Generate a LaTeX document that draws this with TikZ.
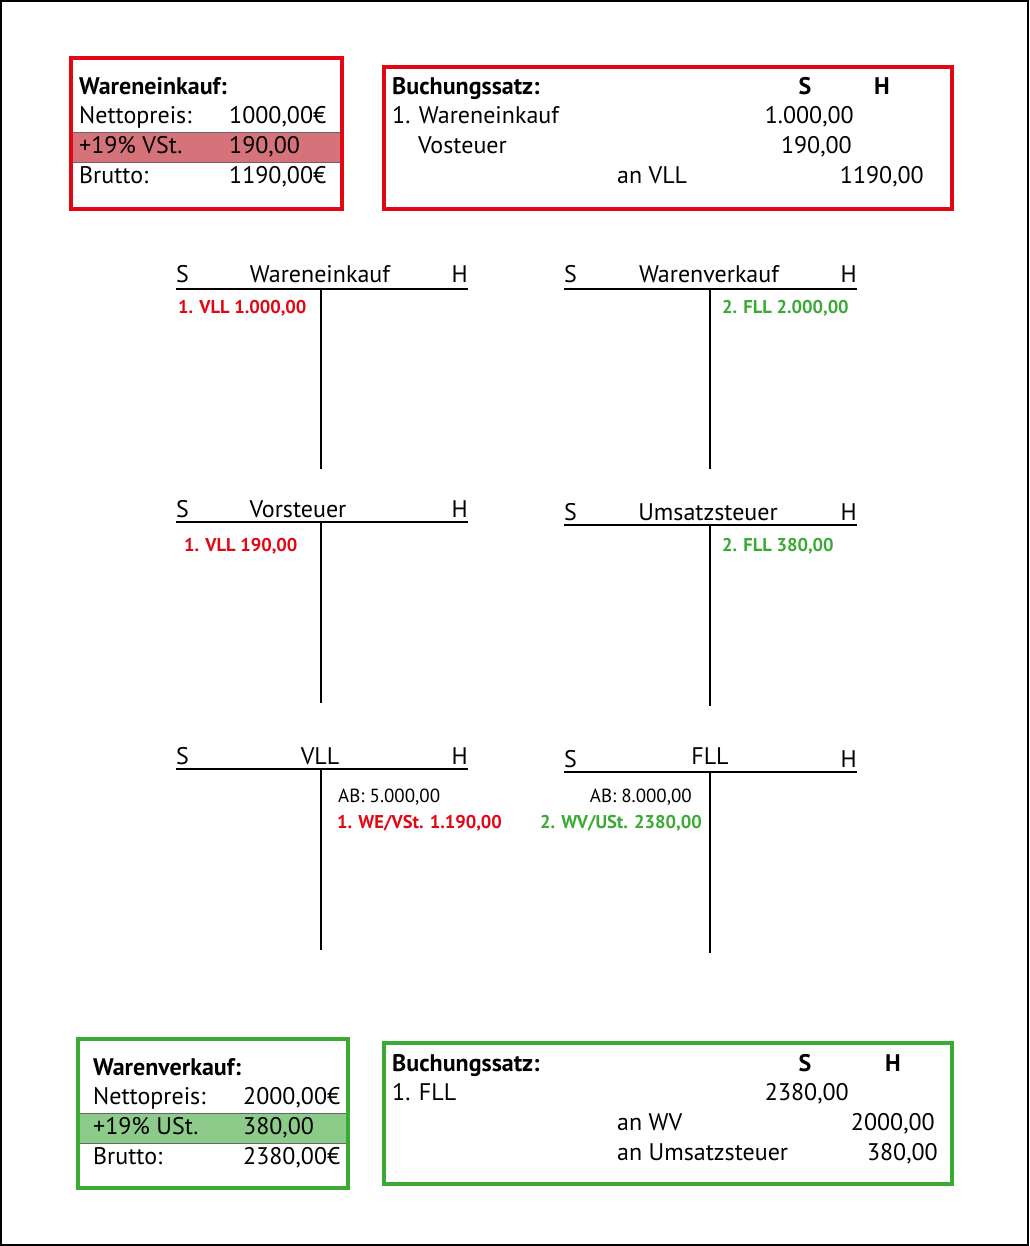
\documentclass[tikz,border=0pt]{standalone}
\usepackage{fontspec}
\setmainfont{PT Sans}
\usetikzlibrary{shapes}
\definecolor{kred}{HTML}{E30613}
\definecolor{kgreen}{HTML}{3AAA35}
\definecolor{redfill}{HTML}{D6727A}
\definecolor{greenfill}{HTML}{8CCB89}
\tikzstyle{txt} =
        [
                anchor = base west,
                inner sep = 0pt,
                font = \fontsize{24}{24}\selectfont
        ]
\tikzstyle{num} =
        [
                txt,
                anchor = base east
        ]
\tikzstyle{head} =
        [
                txt,
                font = \fontsize{24}{24}\selectfont\bfseries
        ]
\tikzstyle{entry} =
        [
                anchor = base west,
                inner sep = 0pt,
                font = \fontsize{18.5}{18.5}\selectfont\bfseries
        ]
\tikzstyle{small} =
        [
                anchor = base west,
                inner sep = 0pt,
                font = \fontsize{19}{19}\selectfont
        ]
\tikzstyle{konto} =
        [
                draw,
                line width = 2pt
        ]
\tikzstyle{redbox} =
        [
                draw = kred,
                line width = 3.5pt
        ]
\tikzstyle{greenbox} =
        [
                draw = kgreen,
                line width = 3.5pt
        ]
\tikzstyle{strip} =
        [
                draw = black!60,
                line width = 1pt
        ]

\begin{document}
\begin{tikzpicture}[x = 1pt, y = -1pt]
        \useasboundingbox (0,0) rectangle (1029,1246);
        \fill [white] (0,0) rectangle (1029,1246);
        \draw [line width = 1.5pt] (1,1) rectangle (1028,1245);

        % Wareneinkauf
        \fill [redfill] (72,133) rectangle (341,163);
        \draw [strip] (72,133) -- (341,133);
        \draw [strip] (72,163) -- (341,163);
        \draw [redbox] (71,58) rectangle (342,209);
        \node [head] (weHead) at (79,95) {Wareneinkauf:};
        \node [txt] (weNetto) at (79,124) {Nettopreis:};
        \node [txt] (weNettoW) at (229,124) {1000,00€};
        \node [txt] (weSt) at (79,154) {+19\% VSt.};
        \node [txt] (weStW) at (229,154) {190,00};
        \node [txt] (weBrutto) at (79,184) {Brutto:};
        \node [txt] (weBruttoW) at (229,184) {1190,00€};

        % Buchungssatz 1
        \draw [redbox] (384,67) rectangle (952,209);
        \node [head] (bs1Head) at (392,95) {Buchungssatz:};
        \node [head, anchor = base] (bs1S) at (805,95) {S};
        \node [head, anchor = base] (bs1H) at (882,95) {H};
        \node [txt] (bs1a) at (392,124) {1. Wareneinkauf};
        \node [num] (bs1aW) at (854,124) {1.000,00};
        \node [txt] (bs1b) at (418,154) {Vosteuer};
        \node [num] (bs1bW) at (852,154) {190,00};
        \node [txt] (bs1c) at (617,184) {an VLL};
        \node [num] (bs1cW) at (924,184) {1190,00};

        % Konto Wareneinkauf
        \draw [konto] (176,289) -- (468,289);
        \draw [konto] (321,289) -- (321,469);
        \node [txt] (keS) at (176,283) {S};
        \node [txt, anchor = base] (keT) at (320,283) {Wareneinkauf};
        \node [num] (keH) at (468,283) {H};
        \node [entry, text = kred] (keE) at (178,313) {1. VLL 1.000,00};

        % Konto Warenverkauf
        \draw [konto] (564,289) -- (857,289);
        \draw [konto] (710,289) -- (710,469);
        \node [txt] (kvS) at (564,283) {S};
        \node [txt, anchor = base] (kvT) at (709,283) {Warenverkauf};
        \node [num] (kvH) at (857,283) {H};
        \node [entry, text = kgreen] (kvE) at (722,313) {2. FLL 2.000,00};

        % Konto Vorsteuer
        \draw [konto] (176,522) -- (468,522);
        \draw [konto] (321,522) -- (321,703);
        \node [txt] (vsS) at (176,517) {S};
        \node [txt, anchor = base] (vsT) at (298,517) {Vorsteuer};
        \node [num] (vsH) at (468,517) {H};
        \node [entry, text = kred] (vsE) at (184,551) {1. VLL 190,00};

        % Konto Umsatzsteuer
        \draw [konto] (564,525) -- (857,525);
        \draw [konto] (710,525) -- (710,706);
        \node [txt] (usS) at (564,520) {S};
        \node [txt, anchor = base] (usT) at (708,520) {Umsatzsteuer};
        \node [num] (usH) at (857,520) {H};
        \node [entry, text = kgreen] (usE) at (722,551) {2. FLL 380,00};

        % Konto VLL
        \draw [konto] (176,769) -- (468,769);
        \draw [konto] (321,769) -- (321,950);
        \node [txt] (vllS) at (176,764) {S};
        \node [txt, anchor = base] (vllT) at (320,764) {VLL};
        \node [num] (vllH) at (468,764) {H};
        \node [small] (vllAB) at (338,802) {AB: 5.000,00};
        \node [entry, text = kred] (vllE) at (337,828) {1. WE/VSt. 1.190,00};

        % Konto FLL
        \draw [konto] (564,772) -- (857,772);
        \draw [konto] (710,772) -- (710,953);
        \node [txt] (fllS) at (564,767) {S};
        \node [txt, anchor = base] (fllT) at (710,764) {FLL};
        \node [num] (fllH) at (857,767) {H};
        \node [small, anchor = base east] (fllAB) at (692,802) {AB: 8.000,00};
        \node [entry, anchor = base east, text = kgreen] (fllE) at (702,828) {2. WV/USt. 2380,00};

        % Warenverkauf
        \fill [greenfill] (79,1113) rectangle (347,1143);
        \draw [strip] (79,1113) -- (347,1113);
        \draw [strip] (79,1143) -- (347,1143);
        \draw [greenbox] (78,1039) rectangle (348,1188);
        \node [head] (wvHead) at (93,1075) {Warenverkauf:};
        \node [txt] (wvNetto) at (93,1104) {Nettopreis:};
        \node [txt] (wvNettoW) at (243,1104) {2000,00€};
        \node [txt] (wvSt) at (93,1134) {+19\% USt.};
        \node [txt] (wvStW) at (243,1134) {380,00};
        \node [txt] (wvBrutto) at (93,1164) {Brutto:};
        \node [txt] (wvBruttoW) at (243,1164) {2380,00€};

        % Buchungssatz 2
        \draw [greenbox] (384,1043) rectangle (952,1184);
        \node [head] (bs2Head) at (392,1071) {Buchungssatz:};
        \node [head, anchor = base] (bs2S) at (805,1071) {S};
        \node [head, anchor = base] (bs2H) at (893,1071) {H};
        \node [txt] (bs2a) at (392,1100) {1. FLL};
        \node [num] (bs2aW) at (849,1100) {2380,00};
        \node [txt] (bs2b) at (617,1130) {an WV};
        \node [num] (bs2bW) at (935,1130) {2000,00};
        \node [txt] (bs2c) at (617,1160) {an Umsatzsteuer};
        \node [num] (bs2cW) at (938,1160) {380,00};
\end{tikzpicture}
\end{document}
